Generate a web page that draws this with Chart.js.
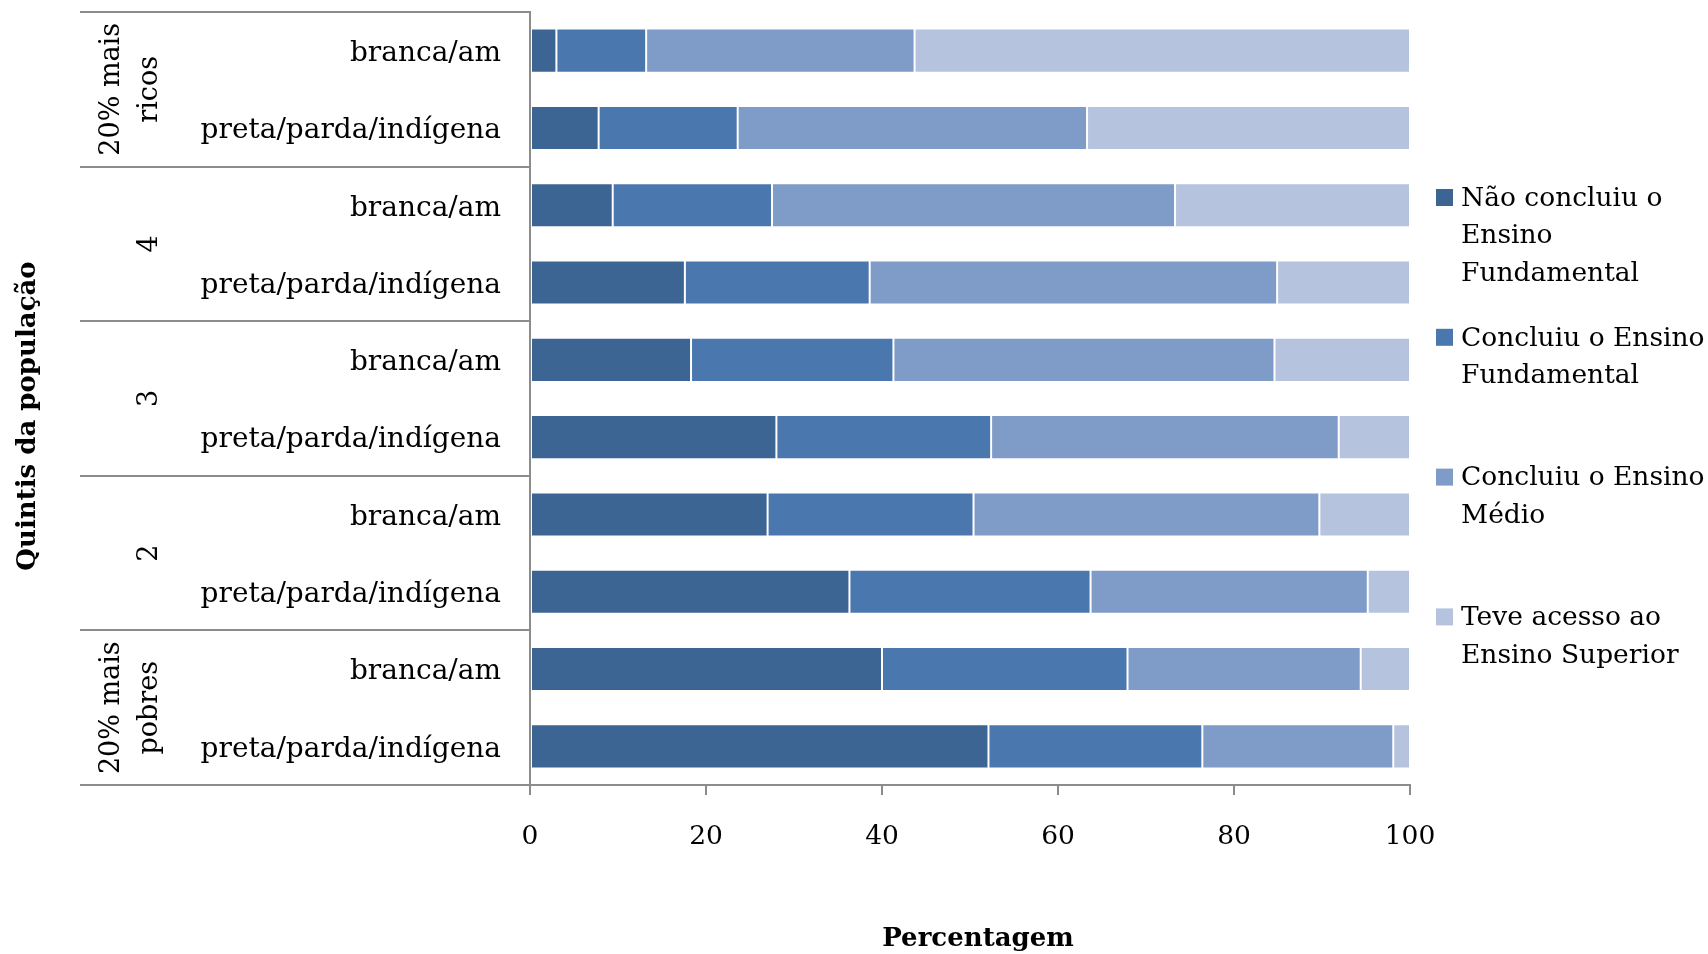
<!DOCTYPE html>
<html>
<head>
<meta charset="utf-8">
<script src="https://cdn.jsdelivr.net/npm/chart.js@4/dist/chart.umd.min.js"></script>
<style>
  html, body { margin: 0; padding: 0; background: #ffffff; }
  #wrap { width: 1708px; height: 954px; position: relative; }
</style>
</head>
<body>
<div id="wrap"><canvas id="c" width="1708" height="954"></canvas></div>
<script>
// Rows, top to bottom: two groups of people inside each income quintile
const categories = [
  "branca/am", "preta/parda/indígena",
  "branca/am", "preta/parda/indígena",
  "branca/am", "preta/parda/indígena",
  "branca/am", "preta/parda/indígena",
  "branca/am", "preta/parda/indígena"
];
// Quintile names, one per pair of rows (each entry = lines of the label)
const quintiles = [["20% mais", "ricos"], ["4"], ["3"], ["2"], ["20% mais", "pobres"]];

// Series names, already split into the lines shown in the legend
const seriesNames = [
  ["Não concluiu o", "Ensino", "Fundamental"],
  ["Concluiu o Ensino", "Fundamental"],
  ["Concluiu o Ensino", "Médio"],
  ["Teve acesso ao", "Ensino Superior"]
];

// Percentages per row
const naoConcluiuFundamental = [3.0, 7.8, 9.4, 17.6, 18.3, 28.0, 27.0, 36.3, 40.0, 52.1];
const concluiuFundamental    = [10.2, 15.8, 18.1, 21.0, 23.0, 24.4, 23.4, 27.4, 27.9, 24.3];
const concluiuMedio          = [30.5, 39.7, 45.8, 46.3, 43.3, 39.5, 39.3, 31.5, 26.5, 21.7];
const ensinoSuperior         = [56.3, 36.7, 26.7, 15.1, 15.4, 8.1, 10.3, 4.8, 5.6, 1.9];

const xTicks = [0, 20, 40, 60, 80, 100];

const seriesColors = ["#3d6594", "#4a77ae", "#7f9bc7", "#b5c3de"];
const seriesValues = [naoConcluiuFundamental, concluiuFundamental, concluiuMedio, ensinoSuperior];

const SERIF = "'DejaVu Serif', serif";
const AXIS_GRAY = "#8c8c8c";

// Quintile brackets, axis titles and the legend block on the right
const decorations = {
  id: "decorations",
  afterDraw(chart) {
    const { ctx, chartArea } = chart;
    const yScale = chart.scales.y;
    const band = yScale.getPixelForValue(1) - yScale.getPixelForValue(0);
    ctx.save();

    // horizontal separators between quintile groups
    ctx.strokeStyle = AXIS_GRAY;
    ctx.lineWidth = 2;
    for (let g = 0; g <= quintiles.length; g++) {
      const yy = Math.round(yScale.getPixelForValue(g * 2) - band / 2);
      ctx.beginPath();
      ctx.moveTo(80, yy);
      ctx.lineTo(chartArea.left, yy);
      ctx.stroke();
    }

    // quintile labels, rotated
    ctx.fillStyle = "#000";
    ctx.font = "27px " + SERIF;
    ctx.textAlign = "center";
    ctx.textBaseline = "middle";
    quintiles.forEach((lines, g) => {
      const cy = (yScale.getPixelForValue(g * 2) + yScale.getPixelForValue(g * 2 + 1)) / 2;
      lines.forEach((t, j) => {
        const lx = 150 - (lines.length - 1 - j) * 38;
        ctx.save();
        ctx.translate(lx, cy);
        ctx.rotate(-Math.PI / 2);
        ctx.fillText(t, 0, 0);
        ctx.restore();
      });
    });

    // axis titles
    ctx.font = "bold 26px " + SERIF;
    ctx.save();
    ctx.translate(28, 416);
    ctx.rotate(-Math.PI / 2);
    ctx.fillText("Quintis da população", 0, 0);
    ctx.restore();
    ctx.fillText("Percentagem", 978, 939);

    // legend
    ctx.font = "26.5px " + SERIF;
    ctx.textAlign = "left";
    chart.data.datasets.forEach((ds, i) => {
      const y0 = 199 + i * 139.8;
      ctx.fillStyle = ds.backgroundColor;
      ctx.fillRect(1436, y0 - 10, 17, 17);
      ctx.fillStyle = "#000";
      seriesNames[i].forEach((t, j) => ctx.fillText(t, 1461, y0 + j * 37.5));
    });
    ctx.restore();
  }
};

new Chart(document.getElementById("c"), {
  type: "bar",
  data: {
    labels: categories,
    datasets: seriesValues.map((vals, i) => ({
      label: seriesNames[i].join(" "),
      data: vals,
      backgroundColor: seriesColors[i],
      borderColor: "rgba(255,255,255,0.3)",
      borderWidth: 1,
      borderSkipped: false,
      barPercentage: 0.57,
      categoryPercentage: 1.0
    }))
  },
  options: {
    indexAxis: "y",
    responsive: false,
    animation: false,
    devicePixelRatio: 1,
    layout: { padding: { left: 0, right: 298, top: 12, bottom: 0 } },
    plugins: { legend: { display: false }, tooltip: { enabled: false } },
    scales: {
      x: {
        stacked: true,
        min: 0,
        max: 100,
        afterBuildTicks: (s) => { s.ticks = xTicks.map((v) => ({ value: v })); },
        afterFit: (s) => { s.height = 169; },
        grid: { display: true, drawOnChartArea: false, drawTicks: true, tickLength: 10, color: AXIS_GRAY, lineWidth: 2 },
        border: { display: true, color: AXIS_GRAY, width: 2 },
        ticks: { padding: 26, color: "#000", font: { family: SERIF, size: 26.5 } }
      },
      y: {
        stacked: true,
        afterFit: (s) => { s.width = 530; },
        grid: { display: false, drawTicks: true, tickLength: 29 },
        border: { display: true, color: AXIS_GRAY, width: 2 },
        ticks: { padding: 0, labelOffset: 3, color: "#000", font: { family: SERIF, size: 28, lineHeight: 0.7 } }
      }
    }
  },
  plugins: [decorations]
});
</script>
</body>
</html>
